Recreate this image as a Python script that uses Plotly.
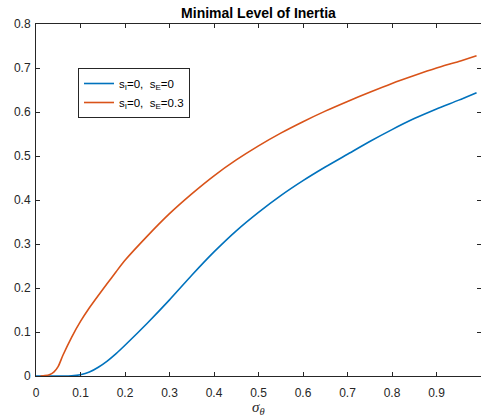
import plotly.graph_objects as go

sigma_blue = [0, 0.02, 0.04, 0.06, 0.08, 0.1, 0.12, 0.14, 0.16, 0.18, 0.2, 0.25, 0.3, 0.35, 0.4,
              0.45, 0.5, 0.55, 0.6, 0.65, 0.7, 0.75, 0.8, 0.85, 0.9, 0.95, 0.99]
inertia_blue = [0, 0, 0, 0, 0.0005, 0.003, 0.009, 0.02, 0.034, 0.051, 0.07, 0.12, 0.173, 0.229, 0.282,
                0.33, 0.372, 0.41, 0.444, 0.475, 0.504, 0.533, 0.56, 0.585, 0.607, 0.627, 0.644]

sigma_orange = [0.01, 0.02, 0.03, 0.04, 0.05, 0.06, 0.08, 0.1, 0.12, 0.14, 0.16, 0.18, 0.2, 0.25, 0.3,
                0.35, 0.4, 0.45, 0.5, 0.55, 0.6, 0.65, 0.7, 0.75, 0.8, 0.85, 0.9, 0.95, 0.99]
inertia_orange = [0, 0.001, 0.003, 0.009, 0.022, 0.046, 0.088, 0.124, 0.155, 0.183, 0.21, 0.237, 0.263, 0.318, 0.369,
                  0.414, 0.455, 0.491, 0.523, 0.552, 0.578, 0.602, 0.624, 0.645, 0.665, 0.683, 0.7, 0.715, 0.728]

x_ticks = [0, 0.1, 0.2, 0.3, 0.4, 0.5, 0.6, 0.7, 0.8, 0.9, 1]
x_tick_labels = ["0", "0.1", "0.2", "0.3", "0.4", "0.5", "0.6", "0.7", "0.8", "0.9", "1"]
y_ticks = [0, 0.1, 0.2, 0.3, 0.4, 0.5, 0.6, 0.7, 0.8]
y_tick_labels = ["0", "0.1", "0.2", "0.3", "0.4", "0.5", "0.6", "0.7", "0.8"]

name_blue = "s<sub>I</sub>=0,  s<sub>E</sub>=0"
name_orange = "s<sub>I</sub>=0,  s<sub>E</sub>=0.3"

fig = go.Figure()
fig.add_trace(go.Scatter(x=sigma_blue, y=inertia_blue, mode="lines", name=name_blue,
                         line=dict(color="#0072BD", width=1.6, shape="spline", smoothing=0.6)))
fig.add_trace(go.Scatter(x=sigma_orange, y=inertia_orange, mode="lines", name=name_orange,
                         line=dict(color="#D95319", width=1.6, shape="spline", smoothing=0.6)))

axis_common = dict(showgrid=False, zeroline=False, showline=True, linecolor="#262626", linewidth=1,
                   mirror="ticks", ticks="inside", ticklen=4, tickcolor="#262626",
                   tickfont=dict(family="Liberation Sans, Arial", size=12, color="#262626"))

fig.update_layout(
    width=481, height=417,
    margin=dict(l=36, r=0, t=24, b=41),
    paper_bgcolor="white", plot_bgcolor="white",
    title=dict(text="<b>Minimal Level of Inertia</b>", x=(36 + 481) / 2 / 481, xanchor="center",
               y=1 - 13 / 417, yanchor="middle",
               font=dict(family="Liberation Sans, Arial", size=14, color="black")),
    xaxis=dict(range=[0, 1], tickvals=x_ticks, ticktext=x_tick_labels, ticklabelstandoff=6,
               **axis_common),
    yaxis=dict(range=[0, 0.8], tickvals=y_ticks, ticktext=y_tick_labels, ticklabelstandoff=2,
               **axis_common),
    legend=dict(x=(78 - 36) / 445, y=(376 - 68) / 352, xanchor="left", yanchor="top",
                bordercolor="#262626", borderwidth=1, bgcolor="white",
                font=dict(family="Liberation Sans, Arial", size=11.5, color="black"),
                itemwidth=30, tracegroupgap=0),
    showlegend=True,
    annotations=[dict(text="<i>σ<sub>θ</sub></i>", xref="paper", yref="paper",
                      x=0.5, y=(376 - 408) / 352, xanchor="center", yanchor="middle",
                      showarrow=False,
                      font=dict(family="Liberation Serif, Times New Roman", size=15, color="#262626"))],
)

fig.write_html("out.html")
